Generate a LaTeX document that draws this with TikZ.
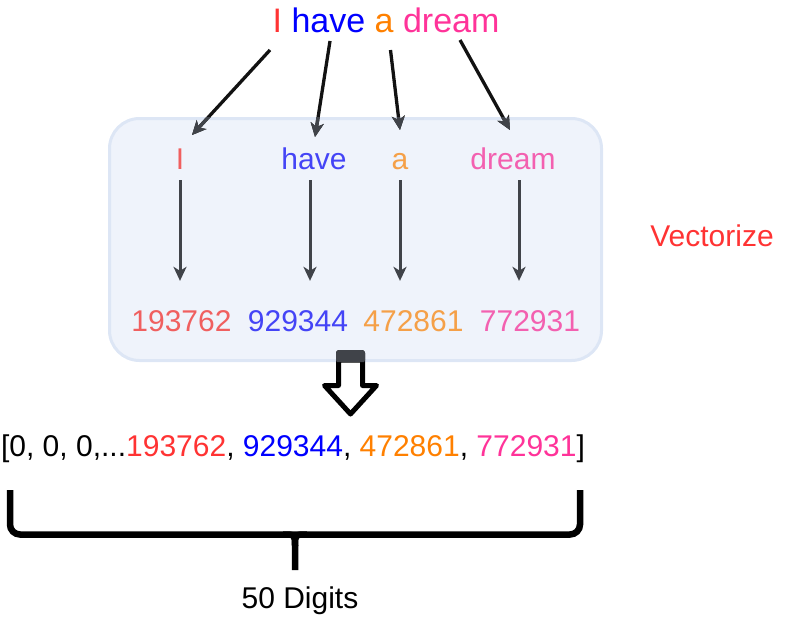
\documentclass[tikz,border=0pt]{standalone}
\usepackage{fontspec}
\setmainfont{Liberation Sans}
\usetikzlibrary{arrows.meta}
\definecolor{cI}{HTML}{FF3333}
\definecolor{cH}{HTML}{0000FF}
\definecolor{cA}{HTML}{FF8000}
\definecolor{cD}{HTML}{FF3399}
\definecolor{bI}{HTML}{F05F5F}
\definecolor{bH}{HTML}{4444F6}
\definecolor{bA}{HTML}{F5A048}
\definecolor{bD}{HTML}{F360B0}
\definecolor{boxfill}{HTML}{EFF3FB}
\definecolor{boxline}{HTML}{DDE6F5}
\definecolor{arrgray}{HTML}{404349}
\tikzset{
  txt/.style={inner sep=0pt, anchor=base, font=\fontsize{30}{36}\selectfont},
  boxst/.style={draw=boxline, fill=boxfill, line width=3pt, rounded corners=30pt,
    minimum width=492pt, minimum height=242pt, inner sep=0pt},
  varr/.style={draw=arrgray, line width=3pt, -{Stealth[length=14pt,width=13pt,inset=4pt]}},
  tarr/.style={draw=black!93, line width=3.3pt, -{Stealth[length=14pt,width=13pt,inset=4pt]}},
  garr/.style={draw=arrgray, line width=3.3pt, -{Stealth[length=14pt,width=13pt,inset=4pt]}},
  brace/.style={draw=black, line width=6.5pt},
}
\begin{document}
\begin{tikzpicture}[x=1pt,y=-1pt]
\useasboundingbox (0,0) rectangle (791,618);

% container box
\node[boxst] (box) at (355.5,239.5) {};

% title
\node[txt, font=\fontsize{34}{40}\selectfont] (title) at (386,33)
  {\textcolor{cI}{I} \textcolor{cH}{have} \textcolor{cA}{a} \textcolor{cD}{dream}};

% free ends of title arrows
\coordinate (s1) at (270,50);   \coordinate (e1) at (192,135);
\coordinate (s2) at (330,41);   \coordinate (e2) at (315,137);
\coordinate (s3) at (390.5,50); \coordinate (e3) at (400,130);
\coordinate (s4) at (460,40);   \coordinate (e4) at (510,130);

\draw[tarr] (s1) -- (e1);
\draw[tarr] (s2) -- (e2);
\draw[tarr] (s3) -- (e3);
\draw[tarr] (s4) -- (e4);

% hollow down arrow
\fill[black, rounded corners=3pt] (336,350) rectangle (365,363);
\draw[line width=5pt, line join=round, fill=white]
  (338.5,385.5) -- (338.5,360) -- (362.5,360) -- (362.5,385.5) -- (376.5,385.5)
  -- (350.5,414) -- (324.5,385.5) -- cycle;

% parts under the container look gray
\begin{scope}
  \clip[rounded corners=30pt] (box.north west) rectangle (box.south east);
  \draw[garr] (s1) -- (e1);
  \draw[garr] (s2) -- (e2);
  \draw[garr] (s3) -- (e3);
  \draw[garr] (s4) -- (e4);
  \fill[arrgray, rounded corners=3pt] (336,350) rectangle (365,363);
\end{scope}

% words in box
\node[txt, text=bI] (w1) at (180,169) {I};
\node[txt, text=bH] (w2) at (314,169) {have};
\node[txt, text=bA] (w3) at (400,169) {a};
\node[txt, text=bD] (w4) at (513,169) {dream};

% numbers in box
\node[txt, text=bI] (n1) at (181.5,331) {193762};
\node[txt, text=bH] (n2) at (298,331) {929344};
\node[txt, text=bA] (n3) at (413.5,331) {472861};
\node[txt, text=bD] (n4) at (530,331) {772931};

\draw[varr] ([yshift=-11pt]w1.south) -- ([yshift=29pt]w1.south |- n1.north);
\draw[varr] ([xshift=-4pt,yshift=-11pt]w2.south) -- ([xshift=-4pt,yshift=29pt]w2.south |- n2.north);
\draw[varr] ([yshift=-11pt]w3.south) -- ([yshift=29pt]w3.south |- n3.north);
\draw[varr] ([xshift=6pt,yshift=-11pt]w4.south) -- ([xshift=6pt,yshift=29pt]w4.south |- n4.north);

% label
\node[txt, text=cI] (vec) at (712,246) {Vectorize};

% vector
\node[txt] (list) at (293,456)
  {[0, 0, 0,...\textcolor{cI}{193762}, \textcolor{cH}{929344}, \textcolor{cA}{472861}, \textcolor{cD}{772931}]};

% brace
\draw[brace, rounded corners=10pt] (10,490) -- (10,534.5) -- (580,534.5) -- (580,490);
\draw[brace] (283,534.5) .. controls (295,534.5) .. (295,546) -- (295,570);
\draw[brace] (307,534.5) .. controls (295,534.5) .. (295,546);

\node[txt] (digits) at (300,608) {50 Digits};
\end{tikzpicture}
\end{document}
